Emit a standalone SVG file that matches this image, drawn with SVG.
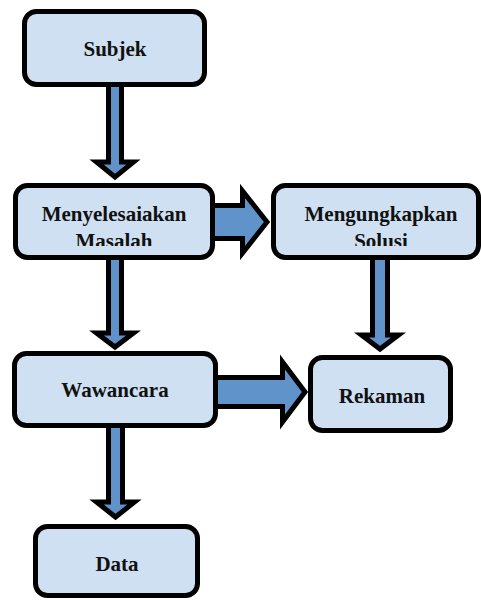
<svg xmlns="http://www.w3.org/2000/svg" width="481" height="600" viewBox="0 0 481 600">
<defs>
<style>
.box{fill:#cfe0f2;stroke:#000;stroke-width:5}
.arr{fill:#5f93c9;stroke:#000;stroke-width:5;stroke-linejoin:miter;stroke-miterlimit:10}
.t{font-family:'Liberation Serif','Times New Roman',Times,'DejaVu Serif',serif;font-weight:bold;font-size:21px;fill:#111;text-anchor:middle}
</style>
<clipPath id="c1"><rect x="0" y="190" width="481" height="56"/></clipPath>
</defs>
<rect width="481" height="600" fill="#fff"/>
<g id="connectors">
<path class="arr" d="M108.5,84 L121.5,84 L121.5,162 L133.5,162 L115,177 L96.5,162 L108.5,162 Z"/>
<path class="arr" d="M108.5,257 L121.5,257 L121.5,333 L133.5,333 L115,347 L96.5,333 L108.5,333 Z"/>
<path class="arr" d="M372.5,257 L387.5,257 L387.5,335 L398.5,335 L380,349 L361.5,335 L372.5,335 Z"/>
<path class="arr" d="M108.5,425 L122.5,425 L122.5,502 L134.5,502 L115.5,517 L96.5,502 L108.5,502 Z"/>
<path class="arr" d="M212,205.5 L242.5,205.5 L242.5,191 L267,222 L242.5,253 L242.5,238.5 L212,238.5 Z"/>
<path class="arr" d="M215,377.5 L282.5,377.5 L282.5,362 L305,392 L282.5,422 L282.5,406.5 L215,406.5 Z"/>
</g>
<g id="subjek">
<rect class="box" x="24.5" y="11.5" width="180" height="73" rx="12"/>
<text class="t" x="115" y="56" font-family="Liberation Serif, serif">Subjek</text>
</g>
<g id="menyelesaiakan">
<rect class="box" x="15.5" y="185.5" width="197" height="72" rx="12"/>
<g clip-path="url(#c1)">
<text class="t" x="114" y="221">Menyelesaiakan</text>
<text class="t" x="114" y="248">Masalah</text>
</g>
</g>
<g id="mengungkapkan">
<rect class="box" x="273.5" y="185.5" width="205" height="72" rx="12"/>
<g clip-path="url(#c1)">
<text class="t" x="381" y="221">Mengungkapkan</text>
<text class="t" x="381" y="248">Solusi</text>
</g>
</g>
<g id="wawancara">
<rect class="box" x="14.5" y="353.5" width="201" height="72" rx="12"/>
<text class="t" x="115" y="397">Wawancara</text>
</g>
<g id="rekaman">
<rect class="box" x="310.5" y="357.5" width="140" height="73" rx="12"/>
<text class="t" x="382" y="403">Rekaman</text>
</g>
<g id="data">
<rect class="box" x="35.5" y="526.5" width="162" height="69" rx="12"/>
<text class="t" x="117" y="571">Data</text>
</g>
</svg>
